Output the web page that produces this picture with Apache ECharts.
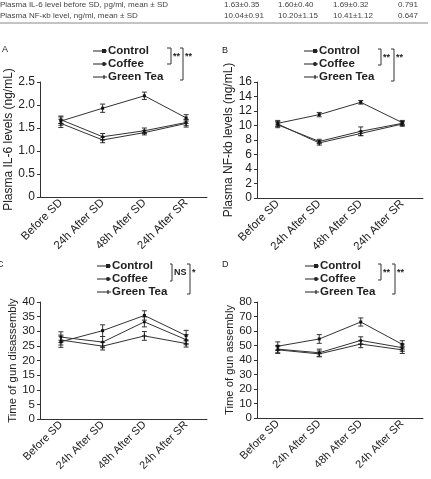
<!DOCTYPE html>
<html>
<head>
<meta charset="utf-8">
<script src="https://cdn.jsdelivr.net/npm/echarts@6/dist/echarts.min.js"></script>
<style>
  html, body { margin: 0; padding: 0; background: #fff; }
  #chart { width: 431px; height: 479px; }
</style>
</head>
<body>
<div id="chart"></div>
<script>
// categories
const timePoints = ['Before SD', '24h After SD', '48h After SD', '24h After SR'];
const groups = ['Control', 'Coffee', 'Green Tea'];

// panel A: plasma IL-6 (ng/mL), one row per group
const il6Means = [[1.65, 1.93, 2.20, 1.72], [1.68, 1.31, 1.44, 1.62], [1.60, 1.24, 1.40, 1.60]];
const il6Errors = [[0.09, 0.09, 0.08, 0.07], [0.08, 0.07, 0.06, 0.07], [0.09, 0.06, 0.05, 0.08]];
// panel B: plasma NF-kb (ng/mL)
const nfkbMeans = [[10.3, 11.5, 13.2, 10.4], [10.1, 7.8, 9.2, 10.3], [10.2, 7.6, 8.9, 10.2]];
const nfkbErrors = [[0.4, 0.3, 0.25, 0.3], [0.4, 0.3, 0.6, 0.3], [0.3, 0.3, 0.3, 0.3]];
// panel C: time of gun disassembly
const disMeans = [[26.4, 30.2, 35.4, 28.5], [28.0, 26.3, 33.2, 27.1], [27.0, 24.9, 28.4, 25.8]];
const disErrors = [[1.9, 2.0, 1.6, 1.8], [1.8, 1.9, 1.7, 1.7], [1.7, 1.3, 1.5, 1.2]];
// panel D: time of gun assembly
const asmMeans = [[49.5, 54.5, 66.2, 50.8], [47.5, 45.0, 53.5, 48.5], [47.0, 44.2, 51.0, 47.0]];
const asmErrors = [[3.0, 3.0, 2.8, 2.5], [2.5, 2.5, 2.5, 2.5], [2.5, 2.0, 2.5, 2.5]];

// header table rows
const tableLabels = ['Plasma IL-6 level before SD, pg/ml, mean \u00b1 SD', 'Plasma NF-\u03bab level, ng/ml, mean \u00b1 SD'];
const tableValues = [['1.63\u00b10.35', '1.60\u00b10.40', '1.69\u00b10.32', '0.791'],
                     ['10.04\u00b10.91', '10.20\u00b11.15', '10.41\u00b11.12', '0.647']];

const FONT = 'Liberation Sans, Arial, sans-serif';
const INK = '#222';
const symbols = ['rect', 'circle', 'path://M3.2,0H4.8V8H3.2Z M0,3.4H8V4.6H0Z'];
const symbolSizes = [3, 3, 5];
// legend icons: short line with the marker near its right end (14 x 4 box)
const legendIcons = [
  'path://M0,1.5H14V2.5H0Z M9,0H13V4H9Z',
  'path://M0,1.5H14V2.5H0Z M11,0A2,2 0 1 1 11,4A2,2 0 1 1 11,0Z',
  'path://M0,1.5H14V2.5H0Z M10.4,0H11.6V4H10.4Z'
];

const panels = [
  { means: il6Means, errs: il6Errors, max: 2.5, step: 0.5, name: 'Plasma IL-6 levels (ng/mL)', fs: 12,
    grid: { left: 40, top: 82, width: 167, height: 115 }, legend: [93, 45], letter: ['A', 2, 50],
    fmt: v => v === 0 ? '0' : v.toFixed(1),
    brackets: [[167, 171, 48, 64, '**'], [180, 183, 48, 80, '**']] },
  { means: nfkbMeans, errs: nfkbErrors, max: 16, step: 2, name: 'Plasma NF-kb levels (ng/mL)', fs: 12,
    grid: { left: 257, top: 82, width: 166, height: 116 }, legend: [304, 45], letter: ['B', 222, 51],
    fmt: v => String(v),
    brackets: [[378, 381, 49, 65, '**'], [391, 394, 49, 81, '**']] },
  { means: disMeans, errs: disErrors, max: 40, step: 5, name: 'Time of gun disassembly', fs: 11.3,
    grid: { left: 40, top: 302, width: 167, height: 117 }, legend: [97, 260], letter: ['C', -3, 265],
    fmt: v => String(v),
    brackets: [[170, 172, 264, 281, 'NS'], [187, 190, 264, 294, '*']] },
  { means: asmMeans, errs: asmErrors, max: 80, step: 10, name: 'Time of gun assembly', fs: 11.3,
    grid: { left: 257, top: 302, width: 166, height: 116 }, legend: [305, 260], letter: ['D', 222, 265],
    fmt: v => String(v),
    brackets: [[378, 381, 264, 280, '**'], [392, 395, 264, 294, '**']] }
];

function errorBarItem(params, api) {
  const x = api.value(0), m = api.value(1), e = api.value(2);
  const hi = api.coord([x, m + e]);
  const lo = api.coord([x, m - e]);
  const w = 2.5;
  const style = { stroke: '#333', lineWidth: 1 };
  return {
    type: 'group',
    children: [
      { type: 'line', shape: { x1: hi[0], y1: hi[1], x2: lo[0], y2: lo[1] }, style },
      { type: 'line', shape: { x1: hi[0] - w, y1: hi[1], x2: hi[0] + w, y2: hi[1] }, style },
      { type: 'line', shape: { x1: lo[0] - w, y1: lo[1], x2: lo[0] + w, y2: lo[1] }, style }
    ]
  };
}

const grids = [], xAxes = [], yAxes = [], series = [], legends = [], graphics = [];

panels.forEach((p, i) => {
  grids.push(p.grid);
  xAxes.push({
    type: 'category', gridIndex: i, data: timePoints, boundaryGap: true,
    axisLine: { lineStyle: { color: '#333', width: 1 } },
    axisTick: { alignWithLabel: true, length: 3, lineStyle: { color: '#333' } },
    axisLabel: { rotate: 45, fontSize: i < 2 ? 11.5 : 11, fontFamily: FONT, color: INK, margin: 4, interval: 0 }
  });
  yAxes.push({
    type: 'value', gridIndex: i, min: 0, max: p.max, interval: p.step,
    name: p.name, nameLocation: 'middle', nameGap: 22,
    nameTextStyle: { fontSize: p.fs, fontFamily: FONT, color: INK },
    axisLine: { show: true, lineStyle: { color: '#333', width: 1 } },
    axisTick: { show: true, length: 3, lineStyle: { color: '#333' } },
    axisLabel: { fontSize: i < 2 ? 12 : 11.5, fontFamily: FONT, color: INK, margin: 5, formatter: p.fmt },
    splitLine: { show: false }
  });
  groups.forEach((g, k) => {
    series.push({
      type: 'custom', xAxisIndex: i, yAxisIndex: i, silent: true, z: 1,
      renderItem: errorBarItem,
      data: p.means[k].map((v, j) => [j, v, p.errs[k][j]]),
      encode: { x: 0, y: 1 }
    });
    series.push({
      type: 'line', name: g, xAxisIndex: i, yAxisIndex: i, z: 3,
      data: p.means[k], symbol: symbols[k], symbolSize: symbolSizes[k], showSymbol: true,
      itemStyle: { color: '#111' }, lineStyle: { color: '#333', width: 1 },
      animation: false
    });
  });
  legends.push({
    orient: 'vertical', left: p.legend[0], top: p.legend[1],
    data: groups.map((g, k) => ({ name: g, icon: legendIcons[k] })),
    itemWidth: 14, itemHeight: 4, itemGap: 1,
    itemStyle: { color: '#222' },
    textStyle: { fontSize: 11.5, fontWeight: 'bold', fontFamily: FONT, color: INK, lineHeight: 12, padding: [0, 0, 0, -4] },
    selectedMode: false, padding: 0
  });
  graphics.push({ type: 'text', left: p.letter[1], top: p.letter[2] - 5,
    style: { text: p.letter[0], fontSize: 9, fontFamily: FONT, fill: INK } });
  p.brackets.forEach(b => {
    graphics.push({ type: 'polyline', shape: { points: [[b[0], b[2]], [b[1], b[2]], [b[1], b[3]], [b[0], b[3]]] },
      style: { stroke: '#333', lineWidth: 1, fill: null } });
    graphics.push({ type: 'text', x: b[1] + 2, y: b[2] + 4,
      style: { text: b[4], fontSize: 9, fontWeight: 'bold', fontFamily: FONT, fill: INK } });
  });
});

// header table
const colX = [224, 278, 333, 398];
tableLabels.forEach((label, r) => {
  const y = 1 + r * 11;
  graphics.push({ type: 'text', x: 0, y: y, style: { text: label, fontSize: 8, fontFamily: FONT, fill: '#444' } });
  tableValues[r].forEach((v, c) => {
    graphics.push({ type: 'text', x: colX[c], y: y, style: { text: v, fontSize: 8, fontFamily: FONT, fill: '#444' } });
  });
});
graphics.push({ type: 'line', shape: { x1: 0, y1: 23, x2: 428, y2: 23 }, style: { stroke: '#888', lineWidth: 1 } });

const chart = echarts.init(document.getElementById('chart'));
chart.setOption({
  animation: false,
  backgroundColor: '#fff',
  grid: grids,
  xAxis: xAxes,
  yAxis: yAxes,
  legend: legends,
  series: series,
  graphic: graphics
});
</script>
</body>
</html>
